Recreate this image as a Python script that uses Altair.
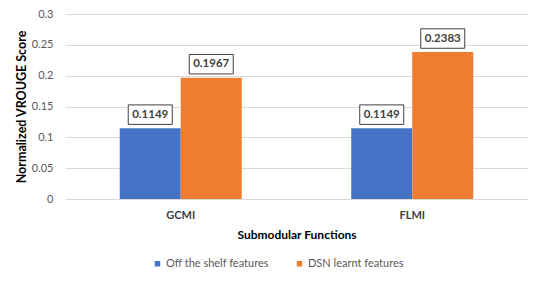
import altair as alt
import pandas as pd

categories = ["GCMI", "FLMI"]
series = ["Off the shelf features", "DSN learnt features"]
off_shelf = [0.1149, 0.1149]
dsn_learnt = [0.1967, 0.2383]
y_ticks = [0, 0.05, 0.1, 0.15, 0.2, 0.25, 0.3]
colors = ["#4472C4", "#ED7D31"]

rows = []
for i, c in enumerate(categories):
    rows.append({"func": c, "series": series[0], "value": off_shelf[i]})
    rows.append({"func": c, "series": series[1], "value": dsn_learnt[i]})
df = pd.DataFrame(rows)

FONT = "Lato"
BOX = "M-1,-0.443H1V0.443H-1Z"

x_enc = alt.X(
    "func:N", sort=categories, title="Submodular Functions",
    scale=alt.Scale(paddingInner=0.473, paddingOuter=0.2365),
    axis=alt.Axis(labelAngle=0, labelFont=FONT, labelFontSize=11, labelFontWeight="bold",
                  labelColor="#404040", labelPadding=10, ticks=False, domain=False,
                  titleFont=FONT, titleFontSize=12, titleFontWeight="bold", titleColor="#000000",
                  titleY=35, titleBaseline="middle"),
)
xo_enc = alt.XOffset("series:N", sort=series, scale=alt.Scale(paddingInner=0, paddingOuter=0))
y_enc = alt.Y(
    "value:Q", title="Normalized VROUGE Score",
    scale=alt.Scale(domain=[0, 0.3], nice=False, zero=True),
    axis=alt.Axis(values=y_ticks, tickCount=7, format=".2~f", labelFont=FONT, labelFontSize=11,
                  labelColor="#595959", labelPadding=12, ticks=False, domain=False,
                  labelOverlap=False,
                  gridColor="#d9d9d9", gridWidth=1,
                  titleFont=FONT, titleFontSize=12.5, titleFontWeight="bold", titleColor="#000000",
                  titleX=-44, titleBaseline="middle"),
)
color_enc = alt.Color(
    "series:N", sort=series,
    scale=alt.Scale(domain=series, range=colors),
    legend=alt.Legend(orient="none", legendX=87, legendY=244, direction="horizontal",
                      title=None, symbolType="square", symbolSize=30, symbolStrokeWidth=0,
                      labelFont=FONT, labelFontSize=11, labelColor="#595959",
                      columnPadding=25, labelOffset=3, padding=0),
)

bars = alt.Chart(df).mark_bar().encode(x=x_enc, xOffset=xo_enc, y=y_enc, color=color_enc)

boxes = alt.Chart(df).mark_point(
    shape=BOX, size=1936, fill="white", stroke="#404040", strokeWidth=1, opacity=1,
    filled=False, yOffset=-13.5,
).encode(x=x_enc, xOffset=xo_enc, y=y_enc)

texts = alt.Chart(df).mark_text(
    yOffset=-13.5, font=FONT, fontSize=11.5, fontWeight="bold", color="#404040",
    baseline="middle", align="center",
).encode(x=x_enc, xOffset=xo_enc, y=y_enc,
         text=alt.Text("value:Q", format=".4f"))

chart = alt.layer(bars, boxes, texts).properties(
    width=463, height=185,
    autosize=alt.AutoSizeParams(type="none"),
    padding={"left": 57, "top": 6, "right": 2, "bottom": 78},
).configure_view(stroke=None)

chart.save("out.html", embed_options={"renderer": "svg", "actions": False})
